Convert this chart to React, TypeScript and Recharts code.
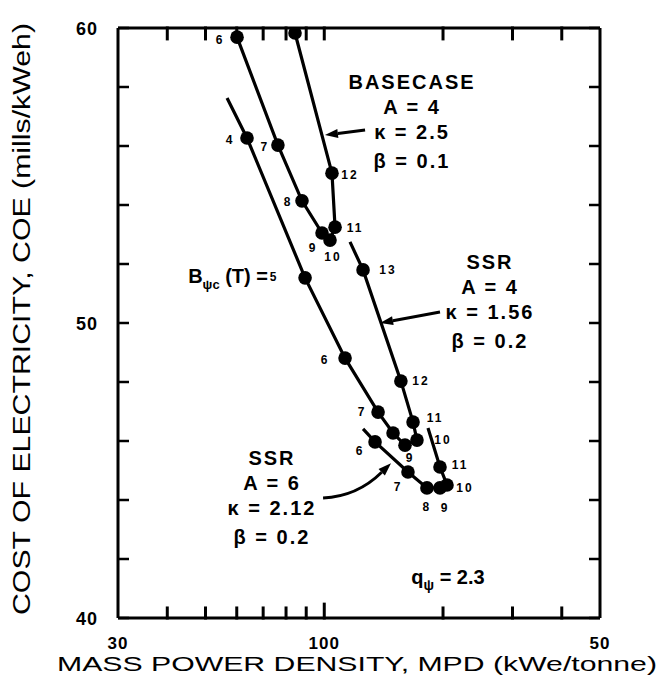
import React from 'react';
import { ScatterChart, Scatter, XAxis, YAxis, ReferenceDot, ReferenceLine, Label } from 'recharts';

const font = '"Liberation Sans", Arial, Helvetica, sans-serif';

// axis ticks (x is logarithmic, 30 .. 500; the printed end label reads "50")
const xTicks = [30, 40, 50, 60, 70, 80, 90, 100, 200, 300, 400, 500];
const xTickText: Record<number, string> = { 30: '30', 100: '100', 500: '50' };
const yTicks = [40, 42, 44, 46, 48, 50, 52, 54, 56, 58, 60];
const yTickText: Record<number, string> = { 40: '40', 50: '50', 60: '60' };

// BASECASE  A=4, kappa=2.5, beta=0.1  (B = field in T)
const baseB = [6, 7, 8, 9, 10, 11, 12, 13];
const baseMPD = [60.1, 76.3, 87.8, 98.7, 103.4, 106.5, 104.6, 84.3];
const baseCOE = [59.69, 56.03, 54.14, 53.05, 52.81, 53.25, 55.08, 59.83];

// SSR  A=4, kappa=1.56, beta=0.2  (null = line runs on without a marker)
const ssr4B = [null, 4, 5, 6, 7, 8, 9, 10, 11, 12, 13, null];
const ssr4MPD = [56.7, 63.7, 89.4, 112.9, 136.9, 149.4, 160.2, 171.8, 167.9, 156.4, 125.4, 116.2];
const ssr4COE = [57.63, 56.27, 51.53, 48.81, 46.98, 46.27, 45.86, 46.03, 46.64, 48.03, 51.8, 52.75];

// SSR  A=6, kappa=2.12, beta=0.2
const ssr6B = [null, 6, 7, 8, 9, 10, 11, null];
const ssr6MPD = [125.4, 134.5, 163.0, 182.1, 196.5, 204.7, 196.5, 183.2];
const ssr6COE = [46.41, 45.97, 44.95, 44.41, 44.41, 44.51, 45.12, 46.44];

// where the B number sits next to each marker (px offset)
const baseLabelAt: Record<number, [number, number]> = {
  6: [-17, 3], 7: [-13, 2], 8: [-14, 1], 9: [-9, 15], 10: [3, 17], 11: [20, 1], 12: [18, 2], 13: [13, -15],
};
const ssr4LabelAt: Record<number, [number, number]> = {
  4: [-17, 2], 5: [-31, -1], 6: [-20, 2], 7: [-16, 0], 9: [5, 13], 10: [26, 0], 11: [22, -4], 12: [20, 0], 13: [25, 0],
};
const ssr6LabelAt: Record<number, [number, number]> = {
  6: [-15, 9], 7: [-10, 15], 8: [0, 19], 9: [5, 20], 10: [18, 3], 11: [20, -2],
};

// text blocks anchored in data space
const blocks = [
  { x: 166.9, y: 58.17, lines: ['BASECASE', 'A = 4', 'κ = 2.5', 'β = 0.1'] },
  { x: 263.1, y: 52.07, lines: ['SSR', 'A = 4', 'κ = 1.56', 'β = 0.2'] },
  { x: 73.7, y: 45.42, lines: ['SSR', 'A = 6', 'κ = 2.12', 'β = 0.2'] },
];
const blockLineGap = [0, 25, 50, 79];

const arrows = [
  { from: { x: 126.9, y: 56.54 }, to: { x: 100.4, y: 56.37 }, bend: 0 },
  { from: { x: 196.5, y: 50.37 }, to: { x: 138.5, y: 50.0 }, bend: 0 },
  { from: { x: 99.3, y: 44.07 }, to: { x: 147.6, y: 45.25 }, bend: 16 },
];

const toPoints = (bs: (number | null)[], xs: number[], ys: number[]) =>
  bs.map((b, i) => ({ b, mpd: xs[i], coe: ys[i] }));

// bottom tick labels (tickSize/tickMargin 0 so y is the axis line)
const XTick = (props: any) => {
  const { x, y, payload } = props;
  const t = xTickText[payload.value];
  if (!t) return <g />;
  return (
    <text x={x} y={y + 31} textAnchor="middle" fontFamily={font} fontWeight="bold" fontSize={17} letterSpacing={1} fill="#000">
      {t}
    </text>
  );
};

// short inward tick mark, drawn between the two ends of a segment
const TickMark = (props: any) => {
  const { x1, y1, x2, y2 } = props;
  return <path d={`M${x1},${y1} L${x2},${y2}`} fill="none" stroke="#000" strokeWidth={3} strokeLinecap="square" />;
};

const YTick = (props: any) => {
  const { x, y, payload } = props;
  const t = yTickText[payload.value];
  if (!t) return <g />;
  return (
    <text x={x - 21} y={y + 6.5} textAnchor="end" fontFamily={font} fontWeight="bold" fontSize={18} letterSpacing={1} fill="#000">
      {t}
    </text>
  );
};

const NoTick = () => <g />;

const makeDot = (labelAt: Record<number, [number, number]>) => (props: any) => {
  const { cx, cy, payload } = props;
  if (payload == null || payload.b == null) return <g />;
  const off = labelAt[payload.b];
  return (
    <g>
      <circle cx={cx} cy={cy} r={6.8} fill="#000" />
      {off && (
        <text x={cx + off[0]} y={cy + off[1]} textAnchor="middle" dominantBaseline="central"
          fontFamily={font} fontWeight="bold" fontSize={12} letterSpacing={2} fill="#000">
          {payload.b}
        </text>
      )}
    </g>
  );
};

const Arrow = (props: any) => {
  const { x1, y1, x2, y2, bend } = props;
  const mx = (x1 + x2) / 2;
  const my = (y1 + y2) / 2 + bend;
  const dx = x2 - (bend ? mx : x1);
  const dy = y2 - (bend ? my : y1);
  const len = Math.sqrt(dx * dx + dy * dy) || 1;
  const ux = dx / len, uy = dy / len;
  const bx = x2 - ux * 13, by = y2 - uy * 13;
  const head = `${x2},${y2} ${bx - uy * 4.5},${by + ux * 4.5} ${bx + uy * 4.5},${by - ux * 4.5}`;
  const d = bend ? `M${x1},${y1} Q${mx},${my} ${bx},${by}` : `M${x1},${y1} L${bx},${by}`;
  return (
    <g>
      <path d={d} fill="none" stroke="#000" strokeWidth={3} />
      <polygon points={head} fill="#000" />
    </g>
  );
};

const XTitle = (props: any) => {
  const vb = props.viewBox;
  return (
    <text x={vb.x + vb.width / 2 - 2} y={vb.y + 53} textAnchor="middle" fontFamily={font} fontSize={21}
      textLength={600} lengthAdjust="spacingAndGlyphs" fill="#000">
      MASS POWER DENSITY, MPD (kWe/tonne)
    </text>
  );
};

const YTitle = (props: any) => {
  const vb = props.viewBox;
  const cx = vb.x - 95;
  const cy = vb.y + vb.height / 2 - 4;
  return (
    <text x={cx} y={cy} transform={`rotate(-90 ${cx} ${cy})`} textAnchor="middle" dominantBaseline="central"
      fontFamily={font} fontSize={23} textLength={592} lengthAdjust="spacingAndGlyphs" fill="#000">
      COST OF ELECTRICITY, COE (mills/kWeh)
    </text>
  );
};

const axisLine = { stroke: '#000', strokeWidth: 3 };
const tickLine = { stroke: '#000', strokeWidth: 2.5 };

export default function App() {
  const base = toPoints(baseB, baseMPD, baseCOE);
  const ssr4 = toPoints(ssr4B, ssr4MPD, ssr4COE);
  const ssr6 = toPoints(ssr6B, ssr6MPD, ssr6COE);
  const curve = { stroke: '#000', strokeWidth: 3.2 };
  // inward tick segments on the bottom (up ~10px) and top (down ~11px) edges, in data units
  const tickSegs = xTicks.slice(1, -1).flatMap((v) => [
    [{ x: v, y: 40 }, { x: v, y: v === 100 ? 40.47 : 40.34 }],
    [{ x: v, y: 60 }, { x: v, y: 59.63 }],
  ]);

  return (
    <div style={{ position: 'absolute', left: 0, top: 0, width: 661, height: 696, background: '#fff' }}>
      <ScatterChart width={661} height={696} margin={{ top: 27, right: 60, bottom: 77, left: 117 }}>
        <XAxis dataKey="mpd" type="number" scale="log" domain={[30, 500]} ticks={xTicks} interval={0}
          allowDataOverflow height={1} tickSize={0} tickMargin={0} axisLine={axisLine} tickLine={false} tick={<XTick />}>
          <Label content={<XTitle />} />
        </XAxis>
        <XAxis xAxisId="top" orientation="top" dataKey="mpd" type="number" scale="log" domain={[30, 500]} ticks={xTicks}
          interval={0} allowDataOverflow height={1} tickSize={0} axisLine={axisLine} tickLine={false} tick={<NoTick />} />
        <YAxis dataKey="coe" type="number" domain={[40, 60]} ticks={yTicks} interval={0} allowDataOverflow width={1}
          tickSize={-11} tickMargin={10} axisLine={axisLine} tickLine={tickLine} tick={<YTick />}>
          <Label content={<YTitle />} />
        </YAxis>
        <YAxis yAxisId="right" orientation="right" dataKey="coe" type="number" domain={[40, 60]} ticks={yTicks} interval={0}
          allowDataOverflow width={1} tickSize={-11} axisLine={axisLine} tickLine={tickLine} tick={<NoTick />} />

        {tickSegs.map((s, i) => (
          <ReferenceLine key={`tk-${i}`} segment={s} ifOverflow="visible" shape={(p: any) => <TickMark {...p} />} />
        ))}

        <Scatter data={base} line={curve} lineType="joint" shape={makeDot(baseLabelAt)} isAnimationActive={false} />
        <Scatter data={ssr4} line={curve} lineType="joint" shape={makeDot(ssr4LabelAt)} isAnimationActive={false} />
        <Scatter data={ssr6} line={curve} lineType="joint" shape={makeDot(ssr6LabelAt)} isAnimationActive={false} />

        {arrows.map((a, i) => (
          <ReferenceLine key={`ar-${i}`} segment={[a.from, a.to]} ifOverflow="visible"
            shape={(p: any) => <Arrow {...p} bend={a.bend} />} />
        ))}

        {blocks.map((blk, i) => (
          <ReferenceDot key={`blk-${i}`} x={blk.x} y={blk.y} r={0} ifOverflow="visible"
            shape={(p: any) => (
              <text textAnchor="middle" fontFamily={font} fontWeight="bold" fontSize={20} letterSpacing={2} fill="#000">
                {blk.lines.map((ln, j) => (
                  <tspan key={j} x={p.cx} y={p.cy + 7 + blockLineGap[j]}>{ln}</tspan>
                ))}
              </text>
            )} />
        ))}

        <ReferenceDot x={72.0} y={51.59} r={0} ifOverflow="visible"
          shape={(p: any) => (
            <text x={p.cx} y={p.cy + 7} textAnchor="end" fontFamily={font} fontWeight="bold" fontSize={20} fill="#000">
              B<tspan fontSize={13} dy={6}>ψc</tspan><tspan dy={-6}> (T) =</tspan>
            </text>
          )} />
        <ReferenceDot x={205.9} y={41.39} r={0} ifOverflow="visible"
          shape={(p: any) => (
            <text x={p.cx} y={p.cy + 7} textAnchor="middle" fontFamily={font} fontWeight="bold" fontSize={20} fill="#000">
              q<tspan fontSize={14} dy={6}>ψ</tspan><tspan dy={-6}>  = 2.3</tspan>
            </text>
          )} />
      </ScatterChart>
    </div>
  );
}
